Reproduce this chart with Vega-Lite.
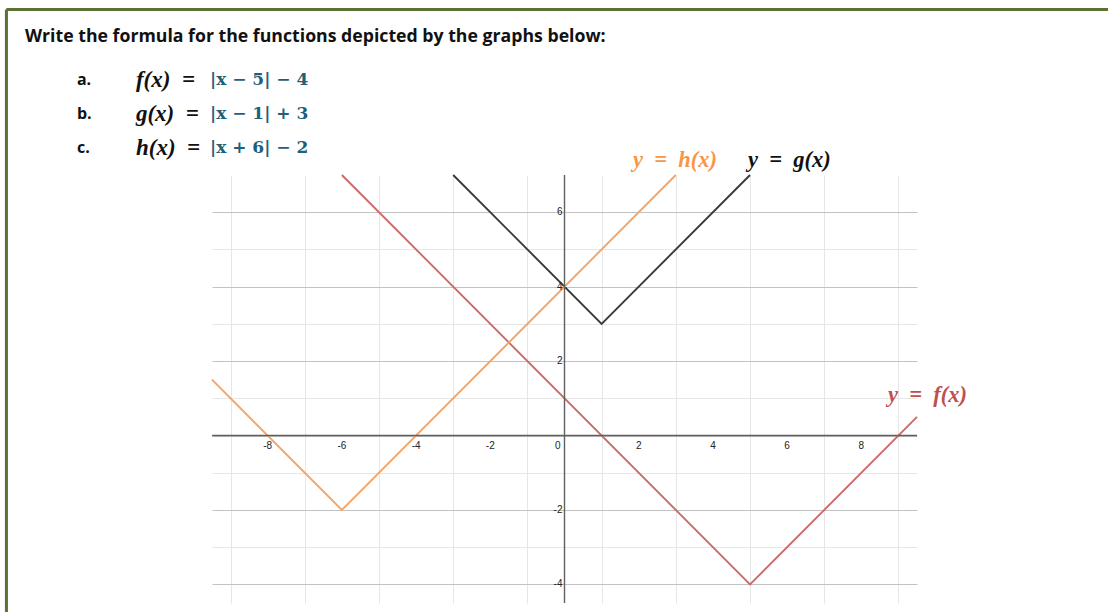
{
  "$schema": "https://vega.github.io/schema/vega-lite/v6.json",
  "width": 705,
  "height": 428,
  "autosize": "none",
  "padding": {"left": 212, "top": 175, "right": 191, "bottom": 9},
  "background": "white",
  "config": {"view": {"stroke": null}},
  "layer": [
    {
      "data": {"values": [
        {"fn": "f", "x": -6, "y": 7}, {"fn": "f", "x": 5, "y": -4}, {"fn": "f", "x": 9.5, "y": 0.5},
        {"fn": "g", "x": -3, "y": 7}, {"fn": "g", "x": 1, "y": 3}, {"fn": "g", "x": 5, "y": 7},
        {"fn": "h", "x": -9.5, "y": 1.5}, {"fn": "h", "x": -6, "y": -2}, {"fn": "h", "x": 3, "y": 7}
      ]},
      "mark": {"type": "line", "strokeWidth": 1.9},
      "encoding": {
        "x": {"field": "x", "type": "quantitative",
          "scale": {"domain": [-9.5, 9.5], "nice": false, "zero": false},
          "axis": {"values": [-9,-8.5,-8,-7.5,-7,-6.5,-6,-5.5,-5,-4.5,-4,-3.5,-3,-2.5,-2,-1.5,-1,-0.5,0,0.5,1,1.5,2,2.5,3,3.5,4,4.5,5,5.5,6,6.5,7,7.5,8,8.5,9],
            "grid": true, "labels": false, "ticks": false, "domain": false, "title": null,
            "gridColor": {"condition": {"test": "datum.value % 2 === 0", "value": "#c2c2c2"}, "value": "#e6e6e6"},
            "gridWidth": 1}},
        "y": {"field": "y", "type": "quantitative",
          "scale": {"domain": [-4.5, 7], "nice": false, "zero": false},
          "axis": {"values": [-4,-3.5,-3,-2.5,-2,-1.5,-1,-0.5,0,0.5,1,1.5,2,2.5,3,3.5,4,4.5,5,5.5,6,6.5],
            "grid": true, "labels": false, "ticks": false, "domain": false, "title": null,
            "gridColor": {"condition": {"test": "datum.value % 2 === 0", "value": "#c2c2c2"}, "value": "#e6e6e6"},
            "gridWidth": 1}},
        "color": {"field": "fn", "type": "nominal",
          "scale": {"domain": ["f", "g", "h"], "range": ["#c96c6a", "#3a3a3a", "#f4a466"]},
          "legend": null},
        "order": {"field": "x", "type": "quantitative"}
      }
    },
    {
      "data": {"values": [{"x": 0}]},
      "mark": {"type": "rule", "color": "#606060", "strokeWidth": 1.4},
      "encoding": {"x": {"field": "x", "type": "quantitative"}}
    },
    {
      "data": {"values": [{"y": 0}]},
      "mark": {"type": "rule", "color": "#606060", "strokeWidth": 1.4},
      "encoding": {"y": {"field": "y", "type": "quantitative"}}
    },
    {
      "data": {"values": [{"v": -8, "label": "-8"}, {"v": -6, "label": "-6"}, {"v": -4, "label": "-4"}, {"v": -2, "label": "-2"}, {"v": 2, "label": "2"}, {"v": 4, "label": "4"}, {"v": 6, "label": "6"}, {"v": 8, "label": "8"}]},
      "mark": {"type": "text", "font": "Liberation Sans", "fontSize": 10, "color": "#222", "dy": 10, "baseline": "middle", "align": "center"},
      "encoding": {"x": {"field": "v", "type": "quantitative"}, "y": {"datum": 0, "type": "quantitative"}, "text": {"field": "label"}}
    },
    {
      "data": {"values": [{"v": 0, "label": "0"}]},
      "mark": {"type": "text", "font": "Liberation Sans", "fontSize": 10, "color": "#222", "dy": 10, "dx": -4, "baseline": "middle", "align": "right"},
      "encoding": {"x": {"field": "v", "type": "quantitative"}, "y": {"datum": 0, "type": "quantitative"}, "text": {"field": "label"}}
    },
    {
      "data": {"values": [{"v": -4, "label": "-4"}, {"v": -2, "label": "-2"}, {"v": 2, "label": "2"}, {"v": 4, "label": "4"}, {"v": 6, "label": "6"}]},
      "mark": {"type": "text", "font": "Liberation Sans", "fontSize": 10, "color": "#222", "dx": -2, "baseline": "middle", "align": "right"},
      "encoding": {"y": {"field": "v", "type": "quantitative"}, "x": {"datum": 0, "type": "quantitative"}, "text": {"field": "label"}}
    },
    {
      "data": {"values": [
        {"x1": -15.04, "x2": 15, "y1": 11.45, "y2": 11.45},
        {"x1": -15.04, "x2": -15.04, "y1": 11.45, "y2": -5}
      ]},
      "mark": {"type": "rule", "color": "#5a7132", "strokeWidth": 3},
      "encoding": {
        "x": {"field": "x1", "type": "quantitative"}, "x2": {"field": "x2"},
        "y": {"field": "y1", "type": "quantitative"}, "y2": {"field": "y2"}
      }
    },
    {
      "data": {"values": [{"tx": -14.54, "ty": 10.71, "label": "Write the formula for the functions depicted by the graphs below:"}]},
      "mark": {"type": "text", "font": "Open Sans", "fontWeight": "bold", "fontSize": 17.7, "color": "#111", "align": "left", "baseline": "middle"},
      "encoding": {"x": {"field": "tx", "type": "quantitative"}, "y": {"field": "ty", "type": "quantitative"}, "text": {"field": "label"}}
    },
    {
      "data": {"values": [
        {"tx": -13.14, "ty": 9.55, "label": "a."},
        {"tx": -13.14, "ty": 8.64, "label": "b."},
        {"tx": -13.14, "ty": 7.73, "label": "c."}
      ]},
      "mark": {"type": "text", "font": "Open Sans", "fontWeight": "bold", "fontSize": 16, "color": "#111", "align": "left", "baseline": "middle"},
      "encoding": {"x": {"field": "tx", "type": "quantitative"}, "y": {"field": "ty", "type": "quantitative"}, "text": {"field": "label"}}
    },
    {
      "data": {"values": [
        {"tx": -11.55, "ty": 9.55, "label": "f(x)\u2002="},
        {"tx": -11.55, "ty": 8.64, "label": "g(x)\u2002="},
        {"tx": -11.55, "ty": 7.73, "label": "h(x)\u2002="}
      ]},
      "mark": {"type": "text", "font": "Liberation Serif", "fontWeight": "bold", "fontStyle": "italic", "fontSize": 23, "color": "#111", "align": "left", "baseline": "middle"},
      "encoding": {"x": {"field": "tx", "type": "quantitative"}, "y": {"field": "ty", "type": "quantitative"}, "text": {"field": "label"}}
    },
    {
      "data": {"values": [
        {"tx": -9.555, "ty": 9.55, "label": "|x − 5| − 4"},
        {"tx": -9.555, "ty": 8.64, "label": "|x − 1| + 3"},
        {"tx": -9.555, "ty": 7.73, "label": "|x + 6| − 2"}
      ]},
      "mark": {"type": "text", "font": "DejaVu Serif", "fontWeight": "bold", "fontSize": 17, "color": "#1d5f7c", "align": "left", "baseline": "middle"},
      "encoding": {"x": {"field": "tx", "type": "quantitative"}, "y": {"field": "ty", "type": "quantitative"}, "text": {"field": "label"}}
    },
    {
      "data": {"values": [
        {"tx": 1.846, "ty": 7.4, "label": "y\u2002=\u2002h(x)", "fn": "h"},
        {"tx": 4.946, "ty": 7.4, "label": "y\u2002=\u2002g(x)", "fn": "g"},
        {"tx": 8.72, "ty": 1.086, "label": "y\u2002=\u2002f(x)", "fn": "f"}
      ]},
      "mark": {"type": "text", "font": "Liberation Serif", "fontWeight": "bold", "fontStyle": "italic", "fontSize": 22.5, "align": "left", "baseline": "middle"},
      "encoding": {"x": {"field": "tx", "type": "quantitative"}, "y": {"field": "ty", "type": "quantitative"}, "text": {"field": "label"},
        "color": {"field": "fn", "type": "nominal", "scale": {"domain": ["f", "g", "h"], "range": ["#c0504d", "#111111", "#f79646"]}, "legend": null}}
    }
  ],
  "resolve": {"scale": {"color": "independent"}}
}
